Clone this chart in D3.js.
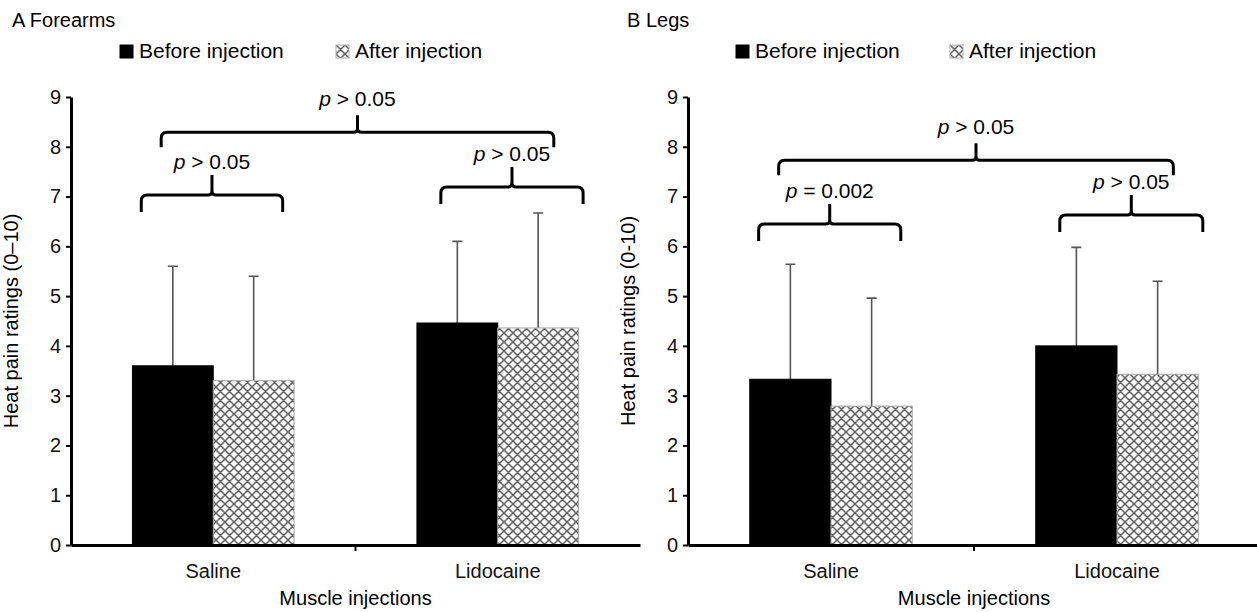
<!DOCTYPE html>
<html lang="en">
<head>
<meta charset="utf-8">
<title>Heat pain ratings</title>
<script src="https://d3js.org/d3.v7.min.js"></script>
<style>
  body { margin: 0; background: #fff; }
  svg { font-family: "Liberation Sans", Arial, sans-serif; }
</style>
</head>
<body>
<div id="chart"></div>
<script>
// data
var categories = ["Saline", "Lidocaine"];
var series = ["Before injection", "After injection"];
var yTicks = [0, 1, 2, 3, 4, 5, 6, 7, 8, 9];

var forearmBefore = [3.6, 4.46];
var forearmAfter = [3.3, 4.36];
var forearmBeforeErr = [2.0, 1.64];
var forearmAfterErr = [2.1, 2.31];

var legBefore = [3.33, 4.0];
var legAfter = [2.79, 3.43];
var legBeforeErr = [2.31, 1.98];
var legAfterErr = [2.17, 1.87];

// brace levels (y value of the horizontal line) and labels
var forearmBraces = [
  { from: "Saline", to: "Saline", level: 7.03, label: "> 0.05" },
  { from: "Lidocaine", to: "Lidocaine", level: 7.19, label: "> 0.05" },
  { from: "Saline", to: "Lidocaine", level: 8.29, label: "> 0.05" }
];
var legBraces = [
  { from: "Saline", to: "Saline", level: 6.45, label: "= 0.002" },
  { from: "Lidocaine", to: "Lidocaine", level: 6.63, label: "> 0.05" },
  { from: "Saline", to: "Lidocaine", level: 7.73, label: "> 0.05" }
];

var svg = d3.select("#chart").append("svg")
    .attr("width", 1257)
    .attr("height", 612);

// hatch pattern
var defs = svg.append("defs");
var pat = defs.append("pattern")
    .attr("id", "hatch")
    .attr("patternUnits", "userSpaceOnUse")
    .attr("width", 9).attr("height", 9);
pat.append("rect").attr("width", 9).attr("height", 9).attr("fill", "#fff");
pat.append("path")
    .attr("d", "M0,0 L9,9 M-1,8 L1,10 M8,-1 L10,1 M0,9 L9,0 M-1,1 L1,-1 M8,10 L10,8")
    .attr("stroke", "#606060")
    .attr("stroke-width", 1.5);

var fills = ["#000", "url(#hatch)"];

function drawPanel(cfg) {
    var g = svg.append("g");

    var x = d3.scaleBand().domain(categories).range([cfg.left, cfg.right]).padding(0);
    var xSub = d3.scaleBand().domain(series).range([0, x.bandwidth()]).paddingInner(0).paddingOuter(0.76);
    var y = d3.scaleLinear().domain([0, 9]).range([545, 97]);

    // title
    g.append("text")
        .attr("x", cfg.titleX).attr("y", 27)
        .style("font-size", "20px")
        .text(cfg.title);

    // legend
    var leg = g.selectAll(".leg").data(series).enter().append("g")
        .attr("transform", function(d, i) { return "translate(" + cfg.legendX[i] + ",45)"; });
    leg.append("rect")
        .attr("width", 13).attr("height", 13)
        .attr("fill", function(d, i) { return i == 0 ? "#000" : "url(#hatch)"; })
        .attr("stroke", function(d, i) { return i == 0 ? "#000" : "#aaa"; })
        .attr("stroke-width", 1);
    leg.append("text")
        .attr("x", 19).attr("y", 13)
        .style("font-size", "21px")
        .text(function(d) { return d; });

    // bars
    var rows = [];
    categories.forEach(function(c, ci) {
        rows.push({ cat: c, s: series[0], v: cfg.before[ci], e: cfg.beforeErr[ci], i: 0 });
        rows.push({ cat: c, s: series[1], v: cfg.after[ci], e: cfg.afterErr[ci], i: 1 });
    });

    // error bars behind bars
    g.selectAll(".err").data(rows).enter().append("path")
        .attr("d", function(d) {
            var cx = x(d.cat) + xSub(d.s) + xSub.bandwidth() / 2;
            var top = y(d.v + d.e);
            return "M" + cx + "," + y(d.v) + "V" + top + "M" + (cx - 5) + "," + top + "H" + (cx + 5);
        })
        .attr("stroke", "#555")
        .attr("stroke-width", 1.6)
        .attr("fill", "none");

    g.selectAll(".bar").data(rows).enter().append("rect")
        .attr("x", function(d) { return x(d.cat) + xSub(d.s); })
        .attr("y", function(d) { return y(d.v); })
        .attr("width", xSub.bandwidth())
        .attr("height", function(d) { return y(0) - y(d.v); })
        .attr("fill", function(d) { return fills[d.i]; })
        .attr("stroke", function(d) { return d.i == 0 ? "#000" : "#a5a5a5"; })
        .attr("stroke-width", 1);

    // y axis
    var yAxis = d3.axisLeft(y).tickValues(yTicks).tickSize(5).tickSizeOuter(0).tickPadding(5);
    var ya = g.append("g").attr("transform", "translate(" + cfg.left + ",0)").call(yAxis);
    ya.select(".domain").attr("stroke-width", 3);
    ya.selectAll(".tick line").attr("stroke-width", 2);
    ya.selectAll(".tick text").style("font-size", "20px").attr("fill", "#111");

    // x axis
    var xAxis = d3.axisBottom(x).tickSize(0).tickSizeOuter(0).tickPadding(19);
    var xa = g.append("g").attr("transform", "translate(0," + y(0) + ")").call(xAxis);
    xa.select(".domain").attr("stroke-width", 3);
    xa.selectAll(".tick text").style("font-size", "20px").attr("fill", "#111");
    g.selectAll(".xb").data(categories.slice(1)).enter().append("line")
        .attr("x1", function(d) { return x(d); }).attr("x2", function(d) { return x(d); })
        .attr("y1", y(0)).attr("y2", y(0) + 6)
        .attr("stroke", "#000").attr("stroke-width", 2);

    // axis titles
    g.append("text")
        .attr("transform", "translate(" + (cfg.left - 53) + "," + ((y(0) + y(9)) / 2) + ") rotate(-90)")
        .attr("text-anchor", "middle")
        .style("font-size", "20px")
        .text(cfg.yTitle);
    g.append("text")
        .attr("x", x(categories[1])).attr("y", 605)
        .attr("text-anchor", "middle")
        .style("font-size", "20px")
        .text("Muscle injections");

    // braces
    cfg.braces.forEach(function(b) {
        var x1, x2, tip, peak;
        if (b.from == b.to) {
            var off = b.from == "Saline" ? [0.247, 0.744] : [0.30, 0.80];
            x1 = x(b.from) + x.bandwidth() * off[0];
            x2 = x(b.from) + x.bandwidth() * off[1];
            tip = 17; peak = 20;
        } else {
            x1 = x(b.from) + x.bandwidth() * 0.317;
            x2 = x(b.to) + x.bandwidth() * 0.697;
            tip = 15; peak = 17;
        }
        var xm = (x1 + x2) / 2;
        var yh = y(b.level);
        var r = 6;
        var d = "M" + x1 + "," + (yh + tip) +
            "L" + x1 + "," + (yh + r) +
            "Q" + x1 + "," + yh + " " + (x1 + r) + "," + yh +
            "L" + (xm - 4) + "," + yh +
            "Q" + xm + "," + yh + " " + xm + "," + (yh - 4) +
            "L" + xm + "," + (yh - peak) +
            "M" + xm + "," + (yh - 4) +
            "Q" + xm + "," + yh + " " + (xm + 4) + "," + yh +
            "L" + (x2 - r) + "," + yh +
            "Q" + x2 + "," + yh + " " + x2 + "," + (yh + r) +
            "L" + x2 + "," + (yh + tip);
        g.append("path")
            .attr("d", d)
            .attr("fill", "none")
            .attr("stroke", "#000")
            .attr("stroke-width", 3);
        var t = g.append("text")
            .attr("x", xm).attr("y", yh - 26)
            .attr("text-anchor", "middle")
            .style("font-size", "21px");
        t.append("tspan").style("font-style", "italic").text("p");
        t.append("tspan").text(" " + b.label);
    });
}

drawPanel({
    title: "A Forearms", titleX: 12,
    legendX: [120, 336],
    left: 71, right: 640,
    before: forearmBefore, after: forearmAfter,
    beforeErr: forearmBeforeErr, afterErr: forearmAfterErr,
    yTitle: "Heat pain ratings (0\u201310)",
    braces: forearmBraces
});

drawPanel({
    title: "B Legs", titleX: 627,
    legendX: [736, 950],
    left: 688, right: 1260,
    before: legBefore, after: legAfter,
    beforeErr: legBeforeErr, afterErr: legAfterErr,
    yTitle: "Heat pain ratings (0-10)",
    braces: legBraces
});
</script>
</body>
</html>
